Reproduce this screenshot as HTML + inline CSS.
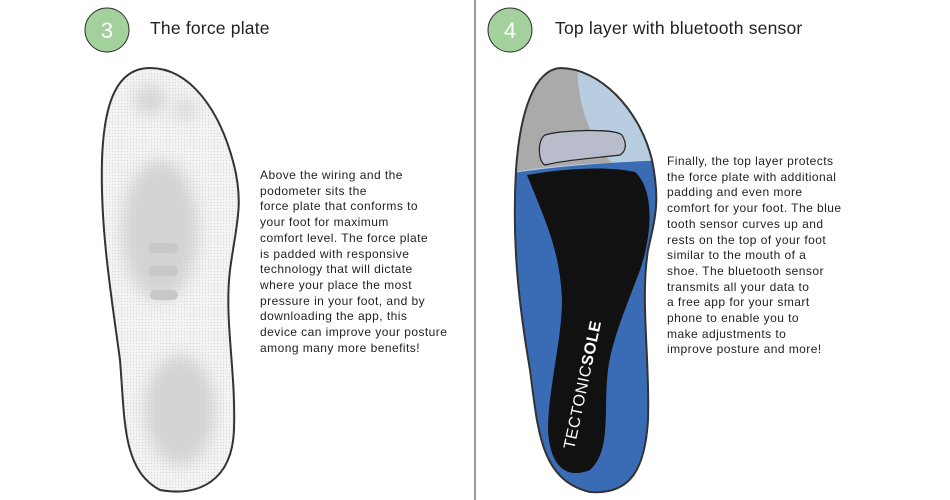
<!DOCTYPE html>
<html><head><style>
body{margin:0;width:950px;height:500px;background:#fff;overflow:hidden;font-family:"Liberation Sans",sans-serif;position:relative}
.t{position:absolute;font-size:12px;line-height:15.7px;color:#222;letter-spacing:0.45px}
.h{position:absolute;font-size:17.5px;color:#222;letter-spacing:0.2px}
</style></head><body>
<svg width="950" height="500" style="position:absolute;left:0;top:0">
<defs>
<pattern id="dots" width="3" height="3" patternUnits="userSpaceOnUse"><rect width="3" height="3" fill="#f4f4f4"/><circle cx="1.5" cy="1.5" r="0.6" fill="#d8d8d8"/></pattern>
<filter id="bl"><feGaussianBlur stdDeviation="8"/></filter>
<clipPath id="cr"><path d="M560,68 C535,70 520,110 516,170 C512,240 518,300 530,370 C538,430 540,480 590,492 C630,495 645,470 648,420 C650,360 640,300 648,250 C656,215 660,200 652,160 C640,110 600,68 560,68 Z"/></clipPath>
</defs>
<line x1="475" y1="0" x2="475" y2="500" stroke="#333" stroke-width="1"/>
<circle cx="107" cy="30" r="22" fill="#a3d19c" stroke="#333" stroke-width="1"/>
<text x="107" y="38" font-size="22" fill="#fff" text-anchor="middle" font-family="Liberation Sans">3</text>
<circle cx="510" cy="30" r="22" fill="#a3d19c" stroke="#333" stroke-width="1"/>
<text x="510" y="38" font-size="22" fill="#fff" text-anchor="middle" font-family="Liberation Sans">4</text>
<path d="M150,68 C118,68 104,100 102,160 C100,230 112,300 120,360 C125,420 122,470 160,490 C200,497 232,480 234,430 C236,370 224,320 230,270 C236,225 244,205 234,165 C220,110 190,68 150,68 Z" fill="url(#dots)" stroke="#333" stroke-width="2"/>
<g filter="url(#bl)" fill="#ccc" opacity="0.8">
<ellipse cx="160" cy="230" rx="38" ry="70"/>
<ellipse cx="180" cy="410" rx="35" ry="55"/>
<ellipse cx="150" cy="100" rx="15" ry="15"/>
<ellipse cx="185" cy="110" rx="10" ry="10"/>
</g>
<rect x="148" y="243" width="30" height="10" rx="5" fill="#c8c8c8"/>
<rect x="148" y="266" width="30" height="10" rx="5" fill="#c8c8c8"/>
<rect x="150" y="290" width="28" height="10" rx="5" fill="#c8c8c8"/>
<g clip-path="url(#cr)">
<rect x="500" y="60" width="170" height="440" fill="#3a6bb5"/>
<path d="M500,60 H670 V160 C620,162 560,165 500,175 Z" fill="#b8cde0"/>
<path d="M500,60 H578 C575,100 590,140 612,163 C570,164 530,168 500,175 Z" fill="#aaaaaa"/>
<path d="M527,175 C565,168 610,166 635,172 C655,190 652,235 640,270 C625,310 612,340 608,370 C603,410 612,450 590,470 C565,480 550,465 548,430 C548,390 562,340 562,300 C560,250 545,220 527,175 Z" fill="#111"/>
</g>
<path d="M560,68 C535,70 520,110 516,170 C512,240 518,300 530,370 C538,430 540,480 590,492 C630,495 645,470 648,420 C650,360 640,300 648,250 C656,215 660,200 652,160 C640,110 600,68 560,68 Z" fill="none" stroke="#333" stroke-width="2"/>
<path d="M545,135 C560,130 615,128 622,135 C628,145 625,152 620,155 C595,158 565,160 545,165 C538,162 537,140 545,135 Z" fill="#b9bccb" stroke="#222" stroke-width="1.2"/>
<text x="0" y="0" font-size="16" fill="#fff" transform="translate(574,450) rotate(-78)" font-family="Liberation Sans" letter-spacing="0.5">TECTONIC<tspan font-weight="bold">SOLE</tspan></text>
</svg>
<div class="h" style="left:150px;top:18px">The force plate</div>
<div class="h" style="left:555px;top:18px">Top layer with bluetooth sensor</div>
<div class="t" style="left:260px;top:168px">Above the wiring and the<br>podometer sits the<br>force plate that conforms to<br>your foot for maximum<br>comfort level. The force plate<br>is padded with responsive<br>technology that will dictate<br>where your place the most<br>pressure in your foot, and by<br>downloading the app, this<br>device can improve your posture<br>among many more benefits!</div>
<div class="t" style="left:667px;top:154px">Finally, the top layer protects<br>the force plate with additional<br>padding and even more<br>comfort for your foot. The blue<br>tooth sensor curves up and<br>rests on the top of your foot<br>similar to the mouth of a<br>shoe. The bluetooth sensor<br>transmits all your data to<br>a free app for your smart<br>phone to enable you to<br>make adjustments to<br>improve posture and more!</div>
</body></html>
